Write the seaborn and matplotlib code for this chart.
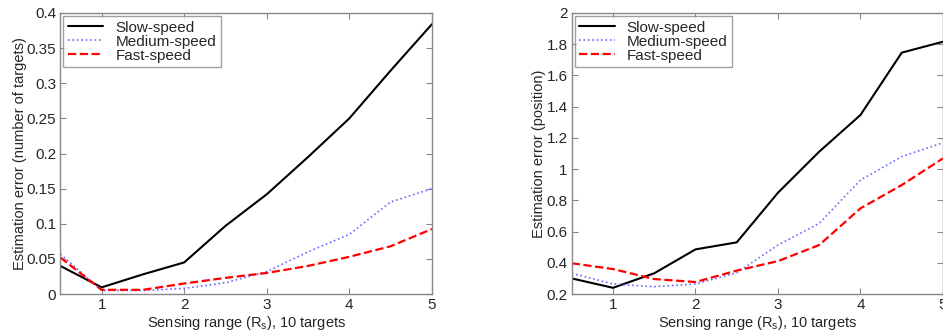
import matplotlib
matplotlib.use("Agg")
import matplotlib.pyplot as plt
import matplotlib.ticker as mticker
import seaborn as sns
import pandas as pd

# sensing range values (x axis)
sensing_range = [0.5, 1, 1.5, 2, 2.5, 3, 3.5, 4, 4.5, 5]

# left panel: estimation error (number of targets)
count_slow = [0.040, 0.0095, 0.028, 0.045, 0.097, 0.142, 0.195, 0.250, 0.318, 0.384]
count_medium = [0.057, 0.005, 0.005, 0.008, 0.016, 0.032, 0.060, 0.085, 0.131, 0.150]
count_fast = [0.052, 0.006, 0.006, 0.015, 0.023, 0.030, 0.040, 0.053, 0.068, 0.0925]

# right panel: estimation error (position)
pos_slow = [0.30, 0.24, 0.333, 0.486, 0.531, 0.849, 1.112, 1.347, 1.746, 1.816]
pos_medium = [0.333, 0.264, 0.247, 0.264, 0.336, 0.514, 0.653, 0.930, 1.080, 1.169]
pos_fast = [0.397, 0.360, 0.296, 0.277, 0.350, 0.411, 0.514, 0.749, 0.898, 1.069]

labels = ['Slow-speed', 'Medium-speed', 'Fast-speed']
styles = {
    'Slow-speed': dict(color='black', linestyle='-', linewidth=1.5),
    'Medium-speed': dict(color='#6a6aff', linestyle=':', linewidth=1.2),
    'Fast-speed': dict(color='#ff0000', linestyle='--', linewidth=1.6),
}

sns.set_style('white')
plt.rcParams['font.family'] = ['Liberation Sans', 'DejaVu Sans']
plt.rcParams['mathtext.default'] = 'regular'

fig = plt.figure(figsize=(9.43, 3.33), dpi=100)
ax1 = fig.add_axes([0.064, 0.117, 0.394, 0.844])
ax2 = fig.add_axes([0.6063, 0.117, 0.3937, 0.844])


def draw(ax, series, ylim, yticks, ylabel):
    df = pd.DataFrame({'x': sensing_range})
    for name, vals in zip(labels, series):
        df[name] = vals
    for name in labels:
        sns.lineplot(data=df, x='x', y=name, ax=ax, label=name, **styles[name])
    ax.set_xlim(0.5, 5)
    ax.set_ylim(*ylim)
    ax.set_xticks([1, 2, 3, 4, 5])
    ax.set_yticks(yticks)
    ax.yaxis.set_major_formatter(mticker.FormatStrFormatter('%g'))
    ax.tick_params(direction='in', length=4, color='#888888', labelsize=11,
                   top=True, right=True, bottom=True, left=True, pad=3)
    for sp in ax.spines.values():
        sp.set_color('#888888')
        sp.set_linewidth(1.0)
    ax.set_xlabel(r'Sensing range ($R_s$), 10 targets', fontsize=10.5, labelpad=1)
    ax.set_ylabel(ylabel, fontsize=10.5, labelpad=0)
    leg = ax.legend(loc='upper left', fontsize=11, frameon=True, fancybox=False,
                    borderaxespad=0.2, handlelength=2.3, labelspacing=0.0,
                    borderpad=0.3, handletextpad=0.8)
    leg.get_frame().set_edgecolor('#888888')
    leg.get_frame().set_linewidth(1.0)


draw(ax1, [count_slow, count_medium, count_fast], (0, 0.4),
     [0, 0.05, 0.1, 0.15, 0.2, 0.25, 0.3, 0.35, 0.4],
     'Estimation error (number of targets)')
draw(ax2, [pos_slow, pos_medium, pos_fast], (0.2, 2),
     [0.2, 0.4, 0.6, 0.8, 1, 1.2, 1.4, 1.6, 1.8, 2],
     'Estimation error (position)')

fig.savefig('out.png', dpi=100)
